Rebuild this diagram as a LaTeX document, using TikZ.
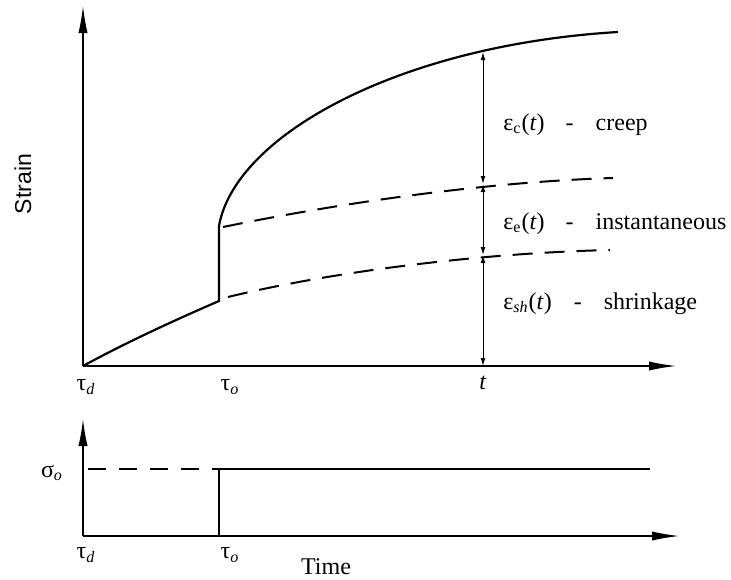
\documentclass[tikz,border=0pt]{standalone}
\usepackage{fontspec}
\setmainfont{Liberation Serif}
\setsansfont{Liberation Sans}
\usetikzlibrary{arrows.meta,positioning}
\tikzset{
  axis/.style={line width=1pt,-{Latex[length=14pt,width=4.6pt]}},
  curve/.style={line width=1.1pt},
  dashcurve/.style={line width=1pt,dash pattern=on 10pt off 6pt},
  dim/.style={line width=0.5pt,{Latex[length=4pt,width=2.4pt]}-{Latex[length=4pt,width=2.4pt]}},
  lbl/.style={font=\fontsize{12}{14}\selectfont,inner sep=0pt}
}

\begin{document}
\begin{tikzpicture}[x=0.5pt,y=-0.5pt]
\useasboundingbox (0,0) rectangle (731,579);
\coordinate (O) at (83,366);\coordinate (ytop) at (83,5);\coordinate (xend) at (677,366);
\coordinate (jlow) at (219,301);\coordinate (jhigh) at (219,226);\coordinate (cend) at (618,32);
\coordinate (tc) at (483,52);\coordinate (te) at (483,184);\coordinate (tsh) at (483,255);\coordinate (tb) at (483,366);
\draw[axis] (O)--(ytop);\draw[axis] (O)--(xend);
\draw[curve] (O) .. controls (125,343) and (175,320) .. (jlow)--(jhigh) .. controls (235,135) and (400,45) .. (cend);
\draw[dashcurve] (223,227) .. controls (330,205) and (480,182) .. (613,178);
\draw[dashcurve] (228,297) .. controls (330,272) and (480,253) .. (610,250);
\draw[dim] (tc)--(te);\draw[dim] (te)--(tsh);\draw[dim] (tsh)--(tb);
\node[lbl,anchor=base west] (creep) at (503,130) {ε\textsubscript{c}(\textit{t})\hspace{10.5pt}-\hspace{11pt}creep};
\node[lbl,anchor=base west] (inst) at (503,229) {ε\textsubscript{e}(\textit{t})\hspace{10.5pt}-\hspace{11pt}instantaneous};
\node[lbl,anchor=base west] (shr) at (503,309) {ε\textsubscript{\textit{sh}}(\textit{t})\hspace{11pt}-\hspace{11pt}shrinkage};
\node[lbl] (taud) at (86,387) {τ\textsubscript{\textit{d}}};\node[lbl] (tauo) at (230,387) {τ\textsubscript{\textit{o}}};\node[lbl] (tlab) at (483,383) {\textit{t}};
\node[lbl,font=\sffamily\fontsize{11.5}{13}\selectfont,rotate=90] (strain) at (23,184) {Strain};
\coordinate (O2) at (83,536);\coordinate (ytop2) at (83,418);\coordinate (xend2) at (680,536);
\coordinate (s0) at (219,536);\coordinate (s1) at (219,469);\coordinate (s2) at (650,469);\coordinate (d0) at (88,469);
\draw[axis] (O2)--(ytop2);\draw[axis] (O2)--(xend2);
\draw[line width=1pt,dash pattern=on 9pt off 6.5pt] (d0)--(s1);
\draw[curve] (s0)--(s1)--(s2);
\node[lbl] (sig) at (52,473) {σ\textsubscript{\textit{o}}};
\node[lbl] (taud2) at (86,555) {τ\textsubscript{\textit{d}}};\node[lbl] (tauo2) at (230,555) {τ\textsubscript{\textit{o}}};
\node[lbl] (time) at (326,567) {Time};
\end{tikzpicture}
\end{document}
